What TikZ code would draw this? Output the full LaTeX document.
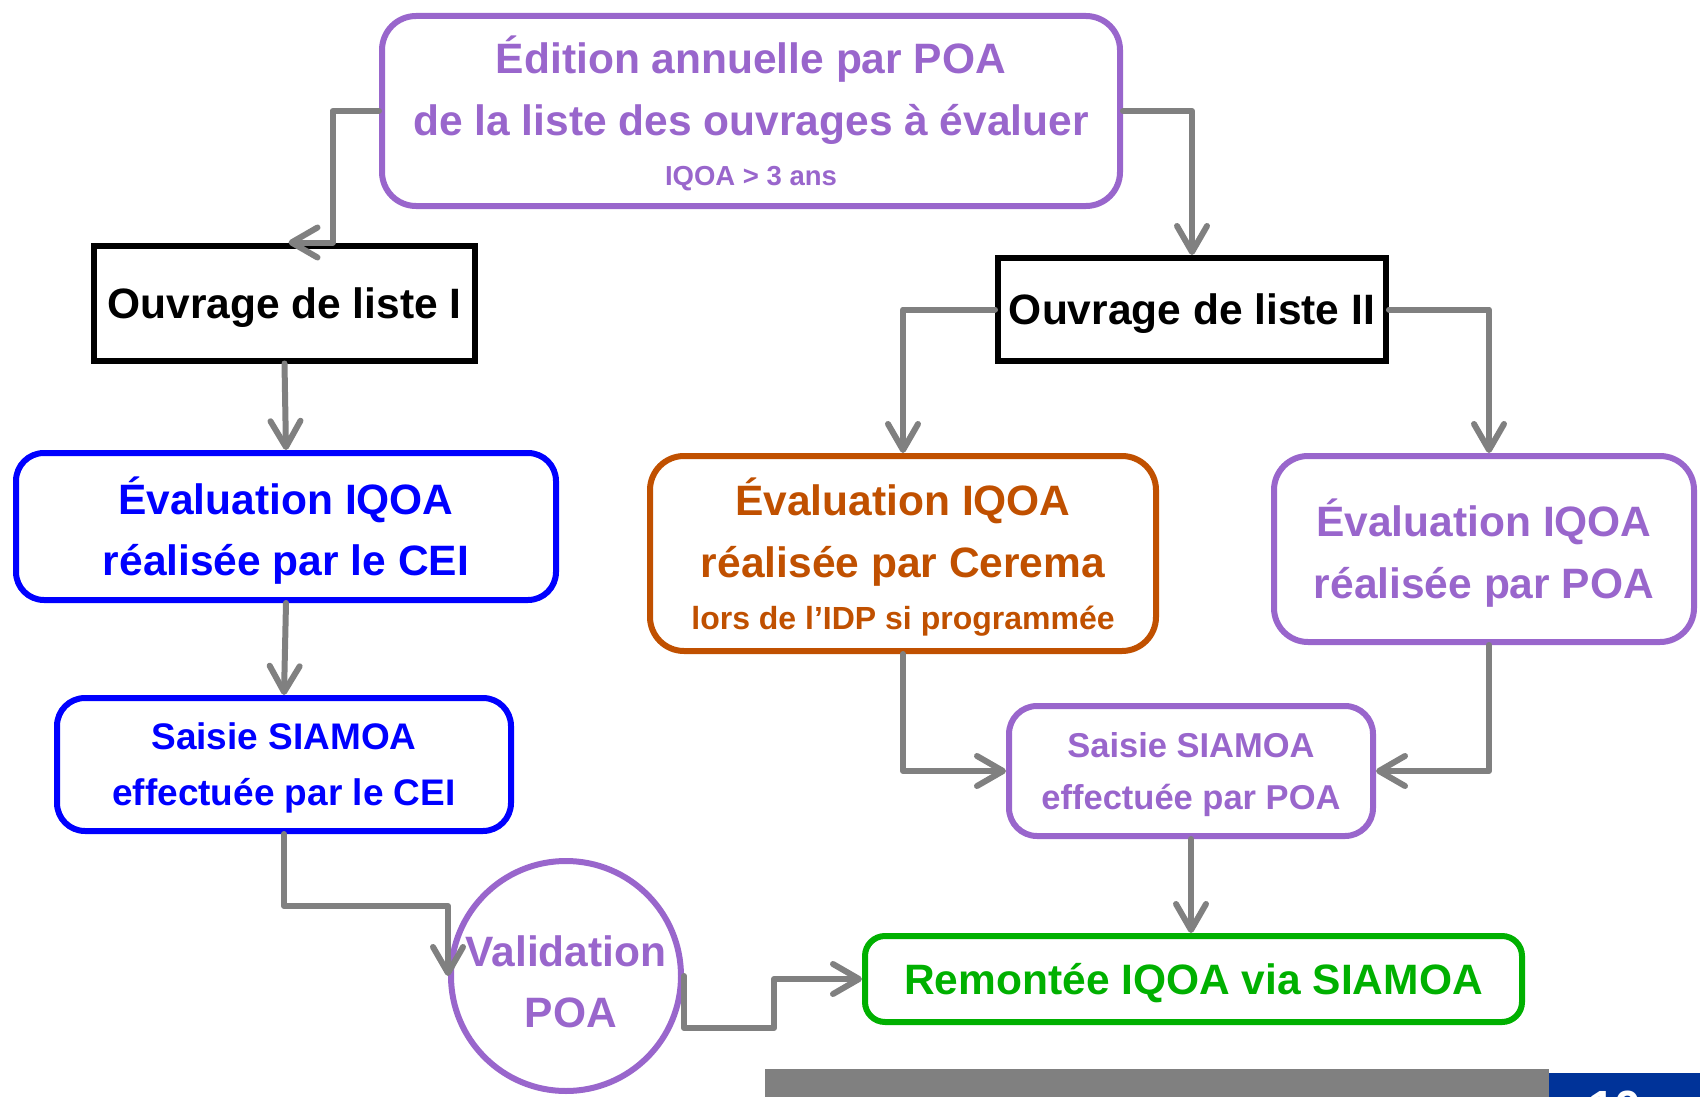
\documentclass[tikz,border=0pt]{standalone}
\usepackage{fontspec}
\setmainfont{Liberation Sans}
\usetikzlibrary{arrows.meta,calc}
\definecolor{cpurple}{RGB}{153,102,204}
\definecolor{corange}{RGB}{192,80,0}
\definecolor{cgreen}{RGB}{0,176,0}
\definecolor{cblue}{RGB}{0,0,255}
\definecolor{cgray}{RGB}{128,128,128}
\definecolor{cnavy}{RGB}{0,51,153}
\newcommand{\fsz}[2]{\fontsize{#1}{#2}\selectfont}
\tikzset{
  box/.style={draw, line width=6pt, inner sep=0pt, align=center, text depth=0pt},
  rbox/.style={box, rounded corners=#1},
  arr/.style={draw=cgray, line width=6pt, line join=round, line cap=round,
    -{Straight Barb[length=26pt,width=30pt,round]}},
}
\begin{document}
\begin{tikzpicture}[x=1pt,y=-1pt]
\useasboundingbox (0,0) rectangle (1700,1097);
\clip (0,0) rectangle (1700,1097);

% nodes
\node[rbox=34pt, draw=cpurple, text=cpurple, minimum width=738pt, minimum height=190pt,
  font=\bfseries\fsz{42.5}{62}] (top) at (751,111)
  {Édition annuelle par POA\\ de la liste des ouvrages à évaluer\\[-12pt] {\fsz{27.5}{34}IQOA > 3 ans}};
\node[box, draw=black, text=black, minimum width=381pt, minimum height=115pt,
  font=\bfseries\fsz{42.5}{50}] (o1) at (284.5,303)
  {Ouvrage de liste I};
\node[box, draw=black, text=black, minimum width=388pt, minimum height=103pt,
  font=\bfseries\fsz{42.5}{50}] (o2) at (1192,309.5)
  {Ouvrage de liste II};
\node[rbox=28pt, draw=cblue, text=cblue, minimum width=540pt, minimum height=147pt,
  font=\bfseries\fsz{42.5}{61}] (cei) at (286,526.5)
  {Évaluation IQOA\\ réalisée par le CEI};
\node[rbox=28pt, draw=cblue, text=cblue, minimum width=454pt, minimum height=133pt,
  font=\bfseries\fsz{37}{56}] (s1) at (284,764.5)
  {Saisie SIAMOA\\ effectuée par le CEI};
\node[rbox=34pt, draw=corange, text=corange, minimum width=506pt, minimum height=195pt,
  font=\bfseries\fsz{42.5}{62}] (cer) at (903,553.5)
  {Évaluation IQOA\\ réalisée par Cerema\\[-10pt] {\fsz{32}{40}lors de l’IDP si programmée}};
\node[rbox=34pt, draw=cpurple, text=cpurple, minimum width=420pt, minimum height=186pt,
  font=\bfseries\fsz{42.5}{62}] (poa) at (1484,549)
  {Évaluation IQOA\\ réalisée par POA};
\node[rbox=28pt, draw=cpurple, text=cpurple, minimum width=364pt, minimum height=130pt,
  font=\bfseries\fsz{34.5}{52}] (s2) at (1191,771)
  {Saisie SIAMOA\\ effectuée par POA};
\node[rbox=20pt, draw=cgreen, text=cgreen, minimum width=657pt, minimum height=86pt,
  font=\bfseries\fsz{42.5}{50}] (rem) at (1193.5,979)
  {Remontée IQOA via SIAMOA};
\node[box, circle, draw=cpurple, text=cpurple, minimum size=230pt,
  font=\bfseries\fsz{42.5}{61}] (val) at (566,976)
  {\rule{0pt}{42pt}Validation\\ \hspace*{10pt}POA};

% connectors
\draw[arr] (top.west) -| ($(o1.north)+(48,0)$) -- ($(o1.north)+(4,0)$);
\draw[arr] (top.east) -| (o2.north);
\draw[arr] (o1.south) -- (cei.north);
\draw[arr] (cei.south) -- (s1.north);
\draw[arr] (s1.south) -- ++(0,72) -| (val.west);
\draw[arr] (val.east) -- ++(0,52) -| ($(rem.west)+(-88,0)$) -- (rem.west);
\draw[arr] (o2.west) -| (cer.north);
\draw[arr] (o2.east) -| ($(poa.north)+(5,0)$);
\draw[arr] (cer.south) |- (s2.west);
\draw[arr] ($(poa.south)+(5,0)$) |- (s2.east);
\draw[arr] (s2.south) -- (s2.south |- rem.north);

% bottom bar
\fill[cgray] (765,1069) rectangle (1549,1097);
\fill[cnavy] (1549,1073) rectangle (1700,1097);
\node[anchor=base west, inner sep=0pt, text=white, font=\bfseries\fsz{48}{56}] (pg) at (1588,1124) {10};
\end{tikzpicture}
\end{document}
